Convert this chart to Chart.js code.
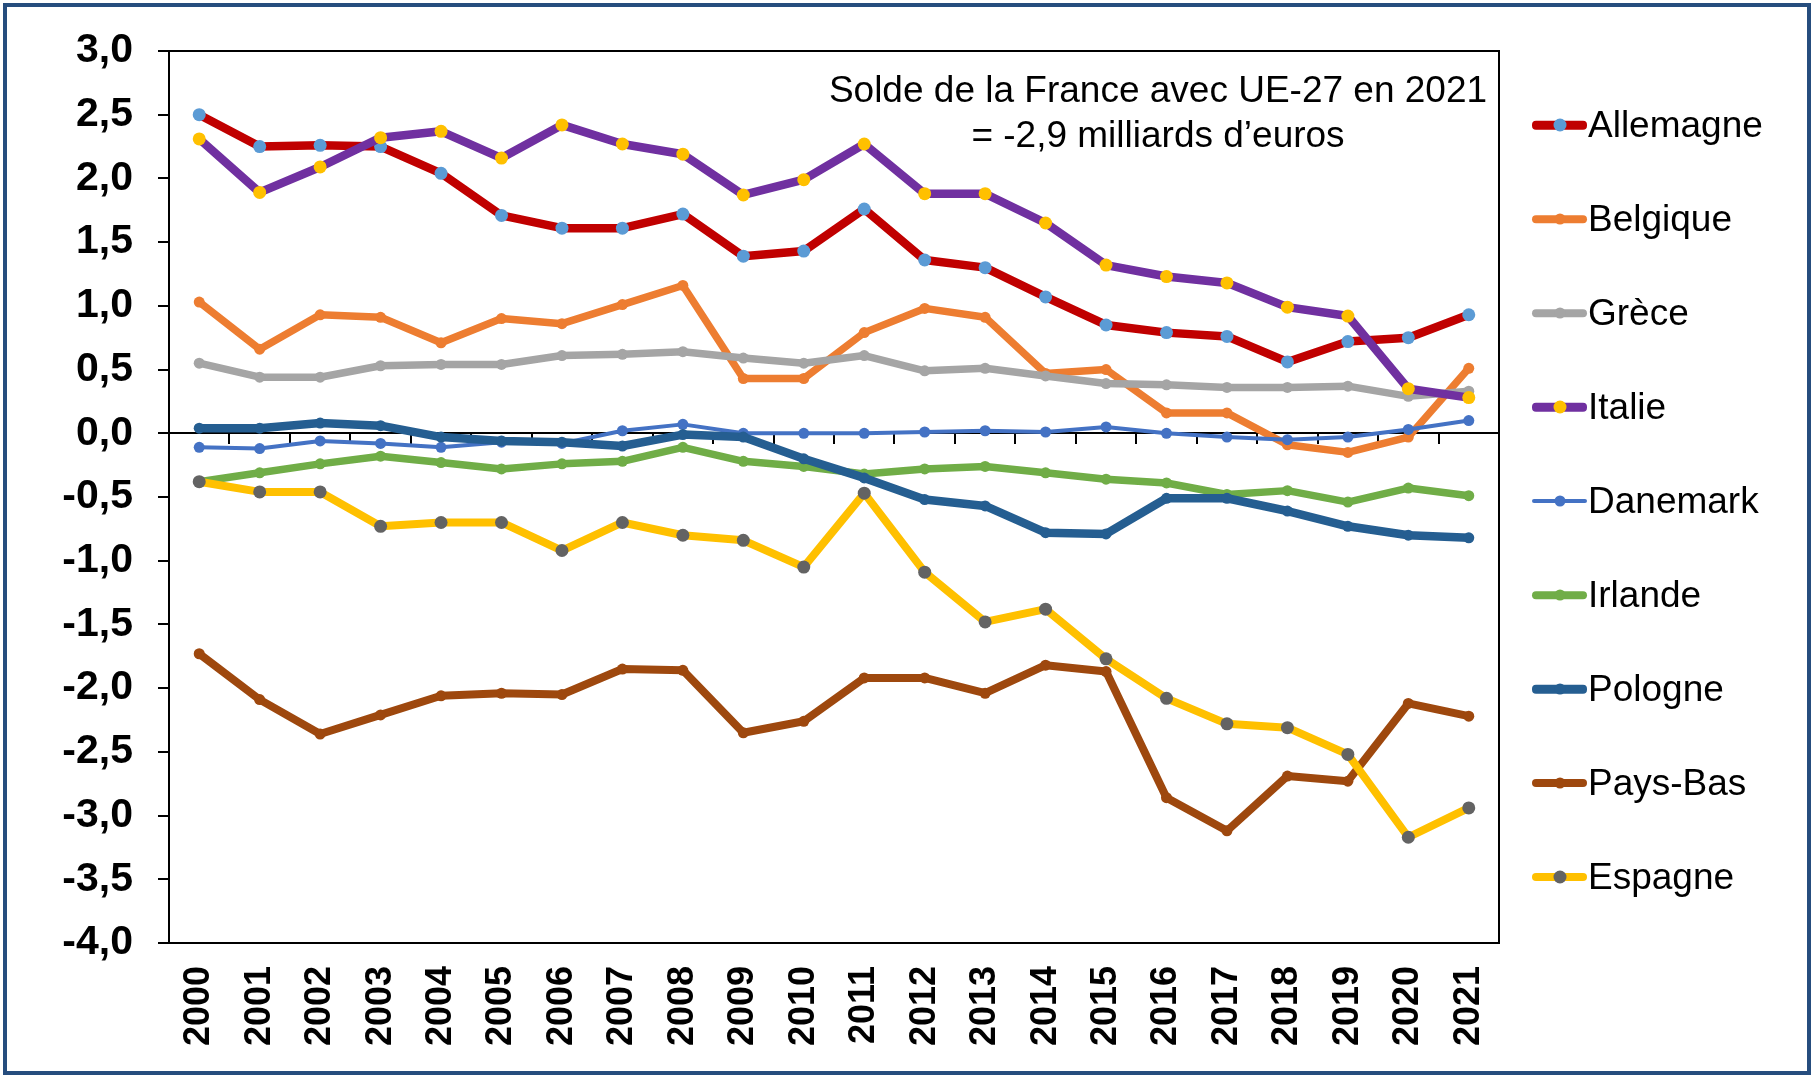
<!DOCTYPE html>
<html lang="fr">
<head>
<meta charset="utf-8">
<title>Solde de la France avec UE-27</title>
<script src="https://cdn.jsdelivr.net/npm/chart.js@4.4.1/dist/chart.umd.min.js"></script>
<style>
  html, body { margin: 0; padding: 0; background: #fff; }
  #wrap { position: relative; width: 1815px; height: 1077px; overflow: hidden;
          font-family: "Liberation Sans", Arial, sans-serif; }
  #chart { position: absolute; left: 0; top: 0; }
  #frame { position: absolute; left: 3px; top: 3px; width: 1800px; height: 1064px;
           border: 4px solid #264D7E; pointer-events: none; }
  #note { position: absolute; left: 758px; top: 67px; width: 800px; text-align: center;
          font-size: 37px; line-height: 45px; color: #000; }
  #legend { position: absolute; left: 1532px; top: 78px; }
  .item { display: flex; align-items: center; height: 94px; }
  .sample { position: relative; width: 55px; height: 14px; }
  .sample .ln { position: absolute; left: 0; right: 0; top: 50%; transform: translateY(-50%); border-radius: 4px; }
  .sample .dot { position: absolute; left: 50%; top: 50%; border-radius: 50%; transform: translate(-50%, -50%); }
  .item span.txt { font-size: 37px; color: #000; margin-left: 1px; white-space: nowrap; }
</style>
</head>
<body>
<div id="wrap">
  <canvas id="chart" width="1815" height="1077"></canvas>
  <div id="note">Solde de la France avec UE-27 en 2021<br>= -2,9 milliards d’euros</div>
  <div id="legend"></div>
  <div id="frame"></div>
</div>
<script>
// ─── DATA (milliards d'euros) ──────────────────────────────
const YEARS = ['2000','2001','2002','2003','2004','2005','2006','2007','2008','2009','2010',
               '2011','2012','2013','2014','2015','2016','2017','2018','2019','2020','2021'];

const ALLEMAGNE = [2.50, 2.25, 2.26, 2.25, 2.04, 1.71, 1.61, 1.61, 1.72, 1.39, 1.43,
                   1.76, 1.36, 1.30, 1.07, 0.85, 0.79, 0.76, 0.56, 0.72, 0.75, 0.93];
const BELGIQUE  = [1.03, 0.66, 0.93, 0.91, 0.71, 0.90, 0.86, 1.01, 1.16, 0.43, 0.43,
                   0.79, 0.98, 0.91, 0.47, 0.50, 0.16, 0.16, -0.09, -0.15, -0.03, 0.51];
const GRECE     = [0.55, 0.44, 0.44, 0.53, 0.54, 0.54, 0.61, 0.62, 0.64, 0.59, 0.55,
                   0.61, 0.49, 0.51, 0.45, 0.39, 0.38, 0.36, 0.36, 0.37, 0.29, 0.33];
const ITALIE    = [2.31, 1.89, 2.09, 2.32, 2.37, 2.16, 2.42, 2.27, 2.19, 1.87, 1.99,
                   2.27, 1.88, 1.88, 1.65, 1.32, 1.23, 1.18, 0.99, 0.92, 0.35, 0.28];
const DANEMARK  = [-0.11, -0.12, -0.06, -0.08, -0.11, -0.07, -0.08, 0.02, 0.07, 0.00, 0.00,
                   0.00, 0.01, 0.02, 0.01, 0.05, 0.00, -0.03, -0.05, -0.03, 0.03, 0.10];
const IRLANDE   = [-0.38, -0.31, -0.24, -0.18, -0.23, -0.28, -0.24, -0.22, -0.11, -0.22, -0.26,
                   -0.32, -0.28, -0.26, -0.31, -0.36, -0.39, -0.48, -0.45, -0.54, -0.43, -0.49];
const POLOGNE   = [0.04, 0.04, 0.08, 0.06, -0.03, -0.06, -0.07, -0.10, -0.01, -0.03, -0.20,
                   -0.35, -0.52, -0.57, -0.78, -0.79, -0.51, -0.51, -0.61, -0.73, -0.80, -0.82];
const PAYS_BAS  = [-1.73, -2.09, -2.36, -2.21, -2.06, -2.04, -2.05, -1.85, -1.86, -2.35, -2.26,
                   -1.92, -1.92, -2.04, -1.82, -1.87, -2.86, -3.12, -2.69, -2.73, -2.12, -2.22];
const ESPAGNE   = [-0.38, -0.46, -0.46, -0.73, -0.70, -0.70, -0.92, -0.70, -0.80, -0.84, -1.05,
                   -0.47, -1.09, -1.48, -1.38, -1.77, -2.08, -2.28, -2.31, -2.52, -3.17, -2.94];

const Y_MIN = -4, Y_MAX = 3, Y_STEP = 0.5;

// ─── STYLES ────────────────────────────────────────────────
const FONT = '"Liberation Sans", Arial, sans-serif';

const SERIES = [
  { label: 'Allemagne', data: ALLEMAGNE, line: '#C00000', dot: '#5B9BD5', width: 8.5, r: 6.5 },
  { label: 'Belgique',  data: BELGIQUE,  line: '#ED7D31', dot: '#ED7D31', width: 7.5, r: 5.5 },
  { label: 'Grèce',     data: GRECE,     line: '#A5A5A5', dot: '#A5A5A5', width: 7.5, r: 5.5 },
  { label: 'Italie',    data: ITALIE,    line: '#7030A0', dot: '#FFC000', width: 8.5, r: 6.5 },
  { label: 'Danemark',  data: DANEMARK,  line: '#4472C4', dot: '#4472C4', width: 4,   r: 5.5 },
  { label: 'Irlande',   data: IRLANDE,   line: '#70AD47', dot: '#70AD47', width: 7.5, r: 5.5 },
  { label: 'Pologne',   data: POLOGNE,   line: '#255E91', dot: '#255E91', width: 8.5, r: 5.5 },
  { label: 'Pays-Bas',  data: PAYS_BAS,  line: '#9E480E', dot: '#9E480E', width: 8,   r: 5.5 },
  { label: 'Espagne',   data: ESPAGNE,   line: '#FFC000', dot: '#636363', width: 8,   r: 6.5 },
];

function fmt(v) {
  return (Math.abs(v) < 1e-9 ? 0 : v).toFixed(1).replace('.', ',');
}

// plot-area border (Excel style box)
const plotFrame = {
  id: 'plotFrame',
  beforeDatasetsDraw(chart) {
    const { ctx, chartArea: a } = chart;
    ctx.save();
    ctx.strokeStyle = '#000';
    ctx.lineWidth = 2;
    ctx.strokeRect(a.left, a.top, a.right - a.left, a.bottom - a.top);
    ctx.restore();
  }
};

const datasets = SERIES.map((s, i) => ({
  label: s.label,
  data: s.data,
  borderColor: s.line,
  backgroundColor: s.dot,
  pointBackgroundColor: s.dot,
  pointBorderColor: s.dot,
  pointBorderWidth: 0,
  pointRadius: s.r,
  borderWidth: s.width,
  borderJoinStyle: 'round',
  borderCapStyle: 'round',
  tension: 0,
  fill: false,
  order: SERIES.length - i,   // first series at the back, like Excel
  xAxisID: 'x',
  yAxisID: 'y',
}));

new Chart(document.getElementById('chart'), {
  type: 'line',
  data: { labels: YEARS, datasets },
  options: {
    responsive: false,
    animation: false,
    devicePixelRatio: 1,
    layout: { padding: { top: 51, right: 316, left: 0, bottom: 0 } },
    plugins: { legend: { display: false }, tooltip: { enabled: false } },
    scales: {
      x: {
        type: 'category',
        position: 'bottom',
        offset: true,
        grid: { display: false },
        border: { display: false },
        ticks: {
          color: '#000',
          font: { family: FONT, size: 36, weight: 'bold' },
          minRotation: 90, maxRotation: 90,
          autoSkip: false,
          padding: 15,
        },
        afterFit: s => { s.height = 134; },
      },
      xz: {
        type: 'category',
        position: { y: 0 },
        offset: true,
        grid: { offset: true, drawOnChartArea: false, drawTicks: true, tickLength: 10, color: '#000', lineWidth: 2 },
        border: { display: true, color: '#000', width: 2 },
        ticks: { display: false },
      },
      y: {
        min: Y_MIN,
        max: Y_MAX,
        ticks: {
          stepSize: Y_STEP,
          color: '#000',
          font: { family: FONT, size: 41, weight: 'bold' },
          padding: 25,
          callback: v => fmt(v),
        },
        grid: { drawOnChartArea: false, drawTicks: true, tickLength: 11, color: '#000', lineWidth: 2 },
        border: { display: true, color: '#000', width: 2 },
        afterFit: s => { s.width = 169; },
      },
    },
  },
  plugins: [plotFrame],
});

// ─── LEGEND ────────────────────────────────────────────────
const legend = document.getElementById('legend');
legend.innerHTML = SERIES.map(s => `
  <div class="item">
    <span class="sample">
      <span class="ln" style="height:${s.width}px;background:${s.line};"></span>
      <span class="dot" style="width:${s.r * 2}px;height:${s.r * 2}px;background:${s.dot};"></span>
    </span>
    <span class="txt">${s.label}</span>
  </div>`).join('');
</script>
</body>
</html>
